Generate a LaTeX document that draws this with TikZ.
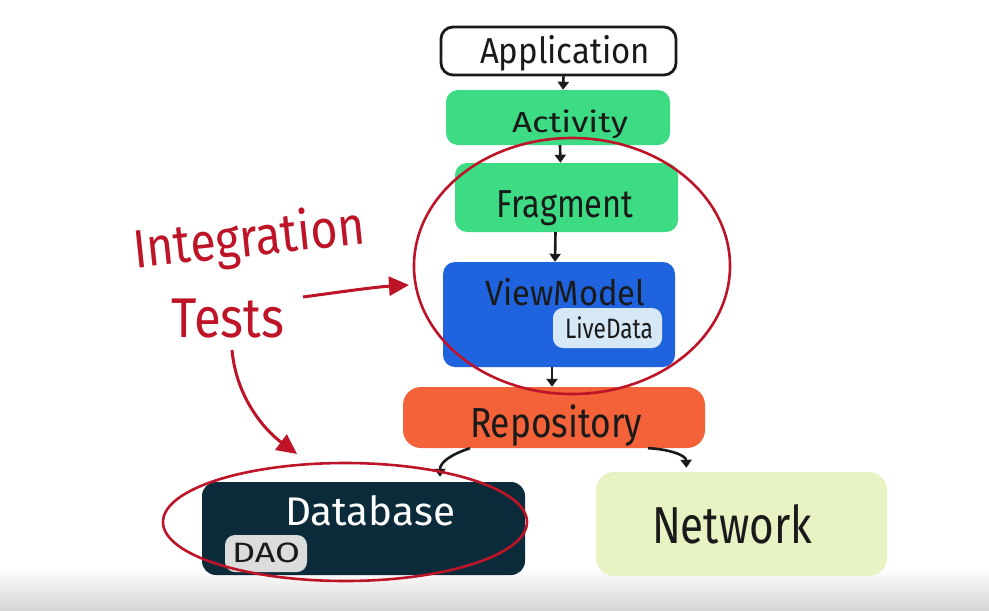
\documentclass[tikz,border=0pt]{standalone}
\usepackage{fontspec}
\setmainfont{Fira Sans}
\usepackage{graphicx}
\usetikzlibrary{arrows.meta,shapes.geometric}
\definecolor{andgreen}{HTML}{3DDC84}
\definecolor{vmblue}{HTML}{1F64DE}
\definecolor{ldblue}{HTML}{D6E8F6}
\definecolor{repoorange}{HTML}{F36238}
\definecolor{dbnavy}{HTML}{0B2B3A}
\definecolor{daogray}{HTML}{DCDCDC}
\definecolor{netgreen}{HTML}{E8F3C3}
\definecolor{markred}{HTML}{BE1428}
\definecolor{ink}{HTML}{1A1A1A}
\newsavebox\hwbox
\newcommand\hw[3]{{\fontsize{#1}{#1}\selectfont\sbox\hwbox{#3}\pgfmathsetmacro\hwr{#2/\the\wd\hwbox}\scalebox{\hwr}[1]{\usebox\hwbox}}}
\tikzset{
  box/.style={rectangle, rounded corners=12pt, inner sep=0pt, draw=none},
  lbl/.style={inner sep=0pt, anchor=base, text=ink},
  conn/.style={draw=ink, line width=2.6pt, -{Triangle[length=8pt,width=11pt]}},
  ring/.style={ellipse, draw=markred, line width=2.6pt, inner sep=0pt},
  redarrow/.style={draw=markred, line width=3pt, -{Triangle[length=20pt,width=19pt]}},
}
\begin{document}
\begin{tikzpicture}[x=1pt,y=-1pt]
\useasboundingbox (0,0) rectangle (989,611);
\fill[white] (0,0) rectangle (989,611);
\shade[top color=white, bottom color=black!17] (0,568) rectangle (989,611);

% boxes
\node[box, fill=white, draw=ink, line width=2.8pt, minimum width=235pt, minimum height=48pt] (app) at (558.5,51) {};
\node[box, fill=andgreen, minimum width=224pt, minimum height=55pt] (act) at (558,117.5) {};
\node[box, fill=andgreen, minimum width=223pt, minimum height=69pt] (frag) at (566.5,197.5) {};
\node[box, fill=vmblue, minimum width=232pt, minimum height=105pt] (vm) at (559,314.5) {};
\node[box, fill=ldblue, rounded corners=10pt, minimum width=109pt, minimum height=40pt] (ld) at (607.5,328) {};
\node[box, fill=repoorange, rounded corners=18pt, minimum width=302pt, minimum height=61pt] (repo) at (554,417.5) {};
\node[box, fill=dbnavy, rounded corners=14pt, minimum width=323pt, minimum height=93pt] (db) at (363.5,528.5) {};
\node[box, fill=daogray, rounded corners=10pt, minimum width=82pt, minimum height=37pt] (dao) at (266,553.5) {};
\node[box, fill=netgreen, rounded corners=18pt, minimum width=291pt, minimum height=104pt] (net) at (741.5,524) {};

% labels
\node[lbl] (tapp) at (565,63) {\hw{36pt}{170}{Application}};
\node[lbl] (tact) at (570,132) {\hw{29pt}{116}{Activity}};
\node[lbl] (tfrag) at (565,217) {\hw{39pt}{137}{Fragment}};
\node[lbl] (tvm) at (565,305) {\hw{35pt}{160}{ViewModel}};
\node[lbl] (tld) at (609,338) {\hw{28pt}{88}{LiveData}};
\node[lbl] (trepo) at (556,437) {\hw{42pt}{172}{Repository}};
\node[lbl, text=white] (tdb) at (370,525) {\hw{40pt}{170}{Database}};
\node[lbl] (tdao) at (266,562) {\hw{28pt}{68}{DAO}};
\node[lbl] (tnet) at (732,543) {\hw{52pt}{160}{Network}};

% connectors
\draw[conn] ([xshift=5pt]app.south) -- ([xshift=5pt]act.north);
\draw[conn] ([xshift=2pt]act.south) -- ([xshift=-6pt]frag.north);
\draw[conn] ([xshift=-11pt]frag.south) -- ([xshift=-4pt]vm.north);
\draw[conn] ([xshift=-7pt]vm.south) -- ([xshift=-2pt]repo.north);
\draw[conn, shorten >=5pt] ([xshift=-84pt]repo.south) .. controls (452,454) and (440,462) .. ([xshift=76.5pt]db.north);
\draw[conn, shorten >=4pt] ([xshift=94pt]repo.south) .. controls (668,449) and (686,455) .. ([xshift=-55pt]net.north);

% red marks
\node[ring, minimum width=316pt, minimum height=256pt] (ring1) at (572,266) {};
\node[ring, minimum width=364pt, minimum height=118pt] (ring2) at (345,522) {};
\node[inner sep=0pt, anchor=base, text=markred, rotate=6] (tint) at (251,256) {\hw{54pt}{233}{Integration}};
\node[inner sep=0pt, anchor=base, text=markred] (ttests) at (228,337) {\hw{56pt}{113}{Tests}};
\coordinate (a1s) at (303,297);
\coordinate (a1e) at (409,285);
\coordinate (a2s) at (232,350);
\coordinate (a2e) at (297,454);
\draw[redarrow] (a1s) .. controls (340,292) and (375,287) .. (a1e);
\draw[redarrow] (a2s) .. controls (236,395) and (262,428) .. (a2e);
\end{tikzpicture}
\end{document}
